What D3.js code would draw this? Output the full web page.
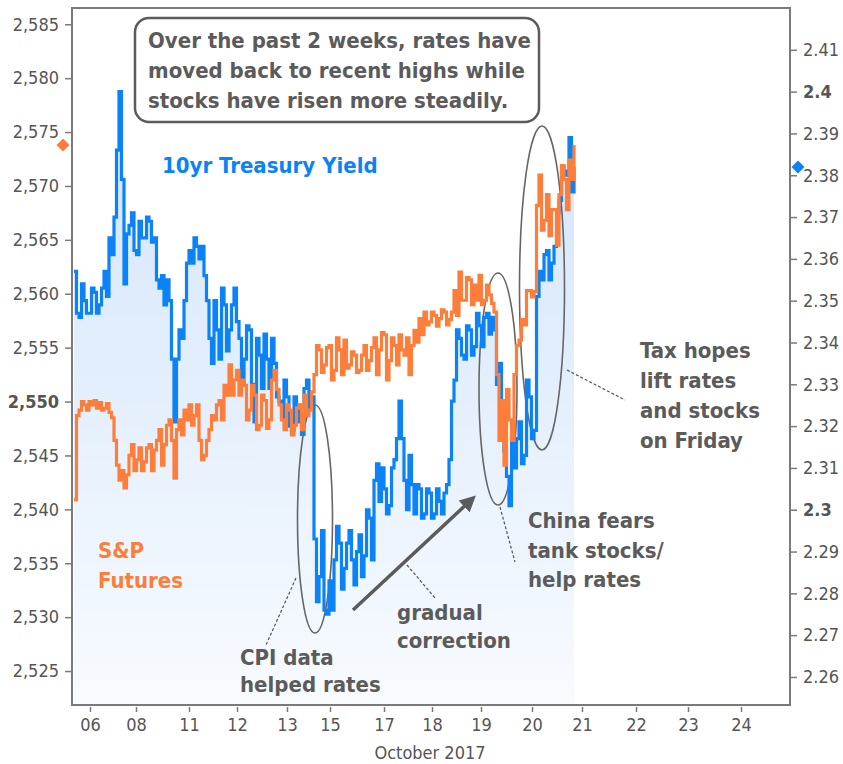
<!DOCTYPE html>
<html>
<head>
<meta charset="utf-8">
<script src="https://cdn.jsdelivr.net/npm/d3@7"></script>
<style>
  html, body { margin: 0; padding: 0; background: #fff; }
  svg { display: block; font-family: 'DejaVu Sans Condensed', 'DejaVu Sans', sans-serif; }
</style>
</head>
<body>
<svg id="chart" width="843" height="764"></svg>
<script>
// ---- Data ----
// x runs in trading-session units (weekends collapsed), day labels sit at these positions
const dayLabels = ['06', '08', '11', '12', '13', '15', '17', '18', '19', '20', '21', '22', '23', '24'];
const dayTicks  = [0.36, 1.28, 2.34, 3.30, 4.30, 5.16, 6.24, 7.20, 8.18, 9.20, 10.20, 11.28, 12.32, 13.38];

const spTicks    = [2525, 2530, 2535, 2540, 2545, 2550, 2555, 2560, 2565, 2570, 2575, 2580, 2585];
const yieldTicks = [2.26, 2.27, 2.28, 2.29, 2.30, 2.31, 2.32, 2.33, 2.34, 2.35, 2.36, 2.37, 2.38, 2.39, 2.40, 2.41];
const boldTicks  = [2550, 2.30, 2.40];

// samples every 0.05 session from 0.04
const sampleStart = 0.04;
const sampleStep  = 0.05;

// 10yr Treasury yield (%)
const yieldVals = [
  2.357, 2.347, 2.346, 2.354, 2.350, 2.347, 2.347, 2.353, 2.352, 2.347,
  2.349, 2.353, 2.357, 2.351, 2.365, 2.361, 2.370, 2.386, 2.400, 2.379,
  2.354, 2.366, 2.368, 2.371, 2.362, 2.361, 2.369, 2.365, 2.365, 2.370,
  2.369, 2.364, 2.365, 2.355, 2.353, 2.356, 2.349, 2.355, 2.350, 2.336,
  2.321, 2.336, 2.343, 2.341, 2.350, 2.359, 2.362, 2.359, 2.365, 2.363,
  2.360, 2.363, 2.356, 2.350, 2.341, 2.335, 2.350, 2.343, 2.336, 2.353,
  2.349, 2.338, 2.343, 2.349, 2.353, 2.345, 2.341, 2.330, 2.336, 2.344,
  2.343, 2.330, 2.321, 2.341, 2.337, 2.329, 2.342, 2.336, 2.329, 2.341,
  2.335, 2.327, 2.326, 2.322, 2.331, 2.327, 2.320, 2.319, 2.327, 2.325,
  2.321, 2.318, 2.329, 2.331, 2.324, 2.327, 2.293, 2.278, 2.284, 2.295,
  2.276, 2.275, 2.283, 2.276, 2.288, 2.296, 2.292, 2.281, 2.286, 2.292,
  2.295, 2.288, 2.282, 2.290, 2.294, 2.284, 2.289, 2.300, 2.298, 2.288,
  2.307, 2.311, 2.302, 2.310, 2.305, 2.299, 2.301, 2.310, 2.312, 2.317,
  2.326, 2.317, 2.307, 2.300, 2.313, 2.306, 2.299, 2.306, 2.305, 2.298,
  2.299, 2.305, 2.304, 2.298, 2.299, 2.305, 2.302, 2.299, 2.304, 2.306,
  2.312, 2.326, 2.331, 2.343, 2.341, 2.337, 2.336, 2.344, 2.343, 2.337,
  2.339, 2.347, 2.344, 2.339, 2.346, 2.347, 2.342, 2.346, 2.343, 2.330,
  2.335, 2.322, 2.314, 2.308, 2.301, 2.317, 2.310, 2.317, 2.321, 2.311,
  2.313, 2.331, 2.327, 2.317, 2.319, 2.351, 2.357, 2.355, 2.361, 2.362,
  2.355, 2.359, 2.363, 2.371, 2.374, 2.382, 2.381, 2.380, 2.389, 2.376,
  2.382
];

// S&P futures
const spVals = [
  2540.9, 2548.7, 2549.2, 2550.0, 2549.7, 2549.2, 2550.0, 2549.7, 2550.1, 2549.4,
  2549.9, 2549.2, 2549.4, 2549.8, 2549.0, 2548.5, 2546.4, 2544.1, 2542.7, 2543.6,
  2542.0, 2543.2, 2545.0, 2546.0, 2543.6, 2544.6, 2545.7, 2543.6, 2544.4, 2545.7,
  2546.0, 2543.6, 2545.5, 2546.4, 2547.4, 2544.1, 2546.0, 2547.8, 2548.3, 2546.4,
  2542.9, 2547.4, 2548.3, 2546.9, 2549.2, 2548.3, 2549.7, 2547.8, 2548.7, 2549.7,
  2546.4, 2544.6, 2545.0, 2546.4, 2547.4, 2548.7, 2548.3, 2549.7, 2550.1, 2548.3,
  2551.5, 2550.6, 2553.4, 2550.6, 2552.0, 2552.9, 2550.6, 2552.0, 2551.5, 2548.3,
  2549.2, 2551.5, 2550.6, 2547.4, 2547.8, 2550.6, 2550.1, 2547.5, 2548.3, 2552.0,
  2552.9, 2551.1, 2549.7, 2548.3, 2547.4, 2549.7, 2549.2, 2546.9, 2547.8, 2549.4,
  2549.7, 2547.4, 2550.6, 2548.7, 2549.2, 2550.9, 2552.5, 2555.2, 2554.8, 2552.7,
  2553.4, 2555.0, 2555.2, 2552.0, 2552.9, 2555.9, 2554.8, 2552.5, 2555.7, 2553.1,
  2553.4, 2554.6, 2554.3, 2552.7, 2552.9, 2554.3, 2555.2, 2552.9, 2553.8, 2555.0,
  2555.9, 2552.5, 2554.8, 2556.4, 2556.2, 2552.0, 2553.8, 2555.9, 2555.2, 2553.4,
  2556.2, 2554.8, 2554.3, 2555.9, 2552.5, 2555.2, 2556.6, 2555.5, 2557.7, 2556.2,
  2558.3, 2557.1, 2557.4, 2558.3, 2558.0, 2557.0, 2557.7, 2558.5, 2558.3, 2557.1,
  2557.6, 2558.3, 2560.3, 2558.0, 2562.0, 2559.4, 2559.4, 2561.5, 2561.3, 2559.0,
  2560.8, 2559.4, 2561.7, 2559.0, 2559.4, 2560.8, 2559.9, 2559.1, 2558.3, 2552.5,
  2546.4, 2550.1, 2544.1, 2551.1, 2548.3, 2546.4, 2552.5, 2555.2, 2555.7, 2557.6,
  2557.1, 2560.3, 2560.3, 2559.7, 2560.2, 2568.2, 2571.0, 2565.9, 2566.8, 2569.2,
  2565.4, 2567.8, 2567.8, 2564.5, 2569.2, 2571.9, 2570.6, 2567.8, 2572.4, 2570.6,
  2573.8
];

const COLOR = {
  yield: '#0b83f7',
  sp:    '#fd7e3a',
  note:  '#5b5b5b',
  axis:  '#7a7a7a',
  tick:  '#555'
};

// ---- Layout ----
const M = { left: 72, right: 790, top: 8, bottom: 705 };

const svg = d3.select('#chart');

const x  = d3.scaleLinear().domain([0, 14.36]).range([M.left, M.right]);
const yL = d3.scaleLinear().domain([2521.85, 2586.51]).range([M.bottom, M.top]);
const yR = d3.scaleLinear().domain([2.2533, 2.4200]).range([M.bottom, M.top]);

const yieldData = yieldVals.map((v, i) => ({ t: sampleStart + i * sampleStep, v }));
const spData    = spVals.map((v, i) => ({ t: sampleStart + i * sampleStep, v }));

// gradient under the yield line
const defs = svg.append('defs');
const grad = defs.append('linearGradient')
  .attr('id', 'yieldFill')
  .attr('gradientUnits', 'userSpaceOnUse')
  .attr('x1', 0).attr('y1', M.top).attr('x2', 0).attr('y2', M.bottom);
grad.append('stop').attr('offset', 0).attr('stop-color', '#cde2fa');
grad.append('stop').attr('offset', 0.55).attr('stop-color', '#e4effc');
grad.append('stop').attr('offset', 1).attr('stop-color', '#f8fbff');

defs.append('marker')
  .attr('id', 'arrowHead')
  .attr('viewBox', '0 0 10 10')
  .attr('refX', 5).attr('refY', 5)
  .attr('markerWidth', 4.6).attr('markerHeight', 4.6)
  .attr('orient', 'auto')
  .append('path')
  .attr('d', 'M0,0 L10,5 L0,10 z')
  .attr('fill', COLOR.note);

const area = d3.area()
  .curve(d3.curveStepAfter)
  .x(d => x(d.t))
  .y0(M.bottom)
  .y1(d => yR(d.v));

svg.append('path')
  .datum(yieldData)
  .attr('d', area)
  .attr('fill', 'url(#yieldFill)');

// ---- Annotations behind lines ----
const notes = svg.append('g').attr('fill', 'none').attr('stroke', '#666');

[[315, 519, 17.5, 114], [498, 389, 19, 116], [542, 288, 22.5, 162]].forEach(([cx, cy, rx, ry]) => {
  notes.append('ellipse')
    .attr('cx', cx).attr('cy', cy).attr('rx', rx).attr('ry', ry)
    .attr('stroke-width', 1.6);
});

[[296, 578, 266, 645], [407, 565, 435, 598], [500, 507, 515, 562], [567, 370, 625, 400]].forEach(([x1, y1, x2, y2]) => {
  notes.append('line')
    .attr('x1', x1).attr('y1', y1).attr('x2', x2).attr('y2', y2)
    .attr('stroke', '#555')
    .attr('stroke-width', 1.2)
    .attr('stroke-dasharray', '3,2');
});

// ---- Lines ----
const lineYield = d3.line().curve(d3.curveStepAfter).x(d => x(d.t)).y(d => yR(d.v));
const lineSp    = d3.line().curve(d3.curveStepAfter).x(d => x(d.t)).y(d => yL(d.v));

svg.append('path')
  .datum(yieldData)
  .attr('d', lineYield)
  .attr('fill', 'none')
  .attr('stroke', COLOR.yield)
  .attr('stroke-width', 3.2);

svg.append('path')
  .datum(spData)
  .attr('d', lineSp)
  .attr('fill', 'none')
  .attr('stroke', COLOR.sp)
  .attr('stroke-width', 3.2);

// arrow "gradual correction"
svg.append('line')
  .attr('x1', 353).attr('y1', 610).attr('x2', 470).attr('y2', 501)
  .attr('stroke', COLOR.note)
  .attr('stroke-width', 3.5)
  .attr('marker-end', 'url(#arrowHead)');

// ---- Frame & axes ----
svg.append('rect')
  .attr('x', M.left).attr('y', M.top)
  .attr('width', M.right - M.left).attr('height', M.bottom - M.top)
  .attr('fill', 'none')
  .attr('stroke', COLOR.axis)
  .attr('stroke-width', 2);

function styleAxis(g) {
  g.select('.domain').remove();
  g.selectAll('.tick line').attr('stroke', COLOR.axis).attr('stroke-width', 1.5);
  g.selectAll('.tick text')
    .attr('fill', COLOR.tick)
    .style('font-size', '18px')
    .style('font-family', "'DejaVu Sans Condensed', 'DejaVu Sans', sans-serif")
    .style('font-weight', d => boldTicks.some(b => Math.abs(b - d) < 1e-6) ? 'bold' : 'normal');
}

svg.append('g')
  .attr('transform', `translate(${M.left},0)`)
  .call(d3.axisLeft(yL).tickValues(spTicks).tickSize(7).tickPadding(6).tickFormat(d3.format(',')))
  .call(styleAxis);

svg.append('g')
  .attr('transform', `translate(${M.right},0)`)
  .call(d3.axisRight(yR).tickValues(yieldTicks).tickSize(7).tickPadding(6).tickFormat(d => String(+d.toFixed(2))))
  .call(styleAxis);

svg.append('g')
  .attr('transform', `translate(0,${M.bottom + 2})`)
  .call(d3.axisBottom(x).tickValues(dayTicks).tickSize(5).tickPadding(6).tickFormat((d, i) => dayLabels[i]))
  .call(styleAxis);

svg.append('text')
  .attr('x', 430).attr('y', 759)
  .attr('text-anchor', 'middle')
  .attr('fill', COLOR.tick)
  .style('font-size', '18px')
  .text('October 2017');

// last-value markers
const diamond = 'M0,-6.5 L6.5,0 L0,6.5 L-6.5,0 Z';
svg.append('path')
  .attr('d', diamond)
  .attr('transform', `translate(${M.left - 9},${yL(spVals[spVals.length - 1])})`)
  .attr('fill', COLOR.sp);
svg.append('path')
  .attr('d', diamond)
  .attr('transform', `translate(${M.right + 8},${yR(yieldVals[yieldVals.length - 1])})`)
  .attr('fill', COLOR.yield);

// ---- Text annotations ----
svg.append('rect')
  .attr('x', 135).attr('y', 18).attr('width', 404).attr('height', 104)
  .attr('rx', 14)
  .attr('fill', '#fff')
  .attr('stroke', COLOR.note)
  .attr('stroke-width', 2.5);

function block(lines, x0, y0, lh, color) {
  const t = svg.append('text')
    .attr('x', x0).attr('y', y0)
    .attr('fill', color)
    .style('font-size', '22px')
    .style('font-weight', 'bold');
  lines.forEach((s, i) => {
    t.append('tspan').attr('x', x0).attr('y', y0 + i * lh).text(s);
  });
}

block(['Over the past 2 weeks, rates have', 'moved back to recent highs while', 'stocks have risen more steadily.'], 148, 48, 30, COLOR.note);
block(['10yr Treasury Yield'], 162, 173, 30, COLOR.yield);
block(['S&P', 'Futures'], 98, 558, 30, COLOR.sp);
block(['CPI data', 'helped rates'], 240, 665, 27, COLOR.note);
block(['gradual', 'correction'], 397, 620, 28, COLOR.note);
block(['China fears', 'tank stocks/', 'help rates'], 528, 528, 29.5, COLOR.note);
block(['Tax hopes', 'lift rates', 'and stocks', 'on Friday'], 640, 358, 30, COLOR.note);
</script>
</body>
</html>
